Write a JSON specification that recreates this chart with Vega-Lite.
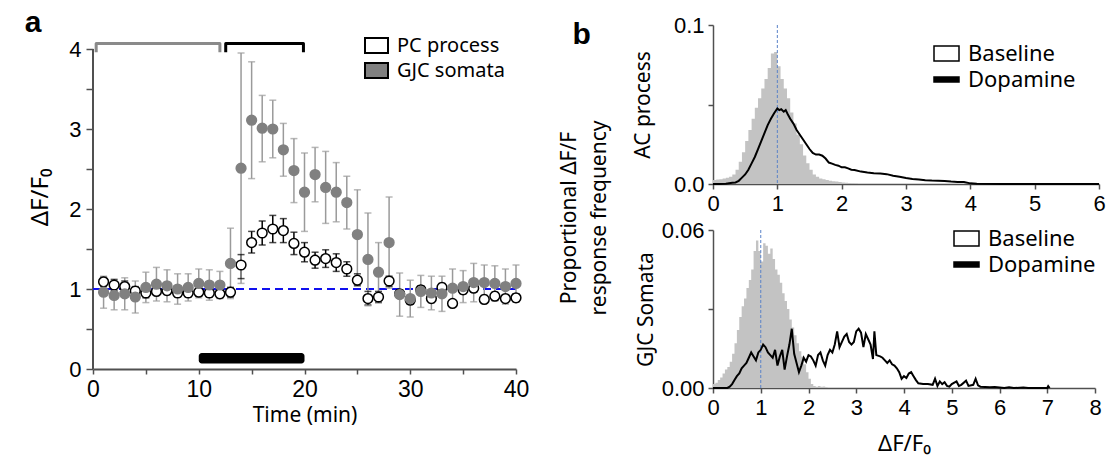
{
  "$schema": "https://vega.github.io/schema/vega-lite/v6.json",
  "background": "white",
  "padding": {"left": 24, "top": 8, "right": 2, "bottom": 2},
  "config": {
    "view": {"stroke": null},
    "font": "Noto Sans",
    "axis": {"grid": false, "domainColor": "#505050", "domainWidth": 2, "tickColor": "#505050", "tickWidth": 1.5, "tickSize": 6, "labelFont": "Liberation Sans", "labelFontSize": 22, "labelColor": "black", "labelFlush": false, "labelOverlap": false, "labelPadding": 4, "titleFont": "Noto Sans", "titleFontSize": 21, "titleFontWeight": "normal", "titleColor": "black"},
    "legend": {"labelFont": "Noto Sans", "labelColor": "black"},
    "title": {"font": "Liberation Sans", "fontWeight": "bold", "fontSize": 30, "color": "black"}
  },
  "datasets": {
    "pa": [
      {"t":1,"s":"PC process","y":1.09,"lo":1.03,"hi":1.15},
      {"t":2,"s":"PC process","y":1.05,"lo":0.98,"hi":1.12},
      {"t":3,"s":"PC process","y":1.03,"lo":0.96,"hi":1.10},
      {"t":4,"s":"PC process","y":0.975,"lo":0.92,"hi":1.03},
      {"t":5,"s":"PC process","y":0.95,"lo":0.89,"hi":1.01},
      {"t":6,"s":"PC process","y":0.97,"lo":0.92,"hi":1.02},
      {"t":7,"s":"PC process","y":0.98,"lo":0.93,"hi":1.03},
      {"t":8,"s":"PC process","y":0.95,"lo":0.90,"hi":1.00},
      {"t":9,"s":"PC process","y":0.95,"lo":0.90,"hi":1.00},
      {"t":10,"s":"PC process","y":0.96,"lo":0.91,"hi":1.01},
      {"t":11,"s":"PC process","y":0.95,"lo":0.90,"hi":1.00},
      {"t":12,"s":"PC process","y":0.94,"lo":0.89,"hi":0.99},
      {"t":13,"s":"PC process","y":0.96,"lo":0.90,"hi":1.02},
      {"t":14,"s":"PC process","y":1.30,"lo":1.13,"hi":1.43},
      {"t":15,"s":"PC process","y":1.58,"lo":1.45,"hi":1.72},
      {"t":16,"s":"PC process","y":1.70,"lo":1.55,"hi":1.85},
      {"t":17,"s":"PC process","y":1.75,"lo":1.58,"hi":1.92},
      {"t":18,"s":"PC process","y":1.73,"lo":1.58,"hi":1.88},
      {"t":19,"s":"PC process","y":1.57,"lo":1.43,"hi":1.71},
      {"t":20,"s":"PC process","y":1.46,"lo":1.34,"hi":1.58},
      {"t":21,"s":"PC process","y":1.36,"lo":1.26,"hi":1.46},
      {"t":22,"s":"PC process","y":1.38,"lo":1.27,"hi":1.49},
      {"t":23,"s":"PC process","y":1.33,"lo":1.22,"hi":1.44},
      {"t":24,"s":"PC process","y":1.25,"lo":1.16,"hi":1.34},
      {"t":25,"s":"PC process","y":1.11,"lo":1.04,"hi":1.19},
      {"t":26,"s":"PC process","y":0.88,"lo":0.80,"hi":0.97},
      {"t":27,"s":"PC process","y":0.90,"lo":0.83,"hi":0.97},
      {"t":28,"s":"PC process","y":1.10,"lo":1.03,"hi":1.16},
      {"t":29,"s":"PC process","y":0.94,"lo":0.89,"hi":0.99},
      {"t":30,"s":"PC process","y":0.86,"lo":0.81,"hi":0.91},
      {"t":31,"s":"PC process","y":0.99,"lo":0.94,"hi":1.04},
      {"t":32,"s":"PC process","y":0.88,"lo":0.83,"hi":0.93},
      {"t":33,"s":"PC process","y":1.02,"lo":0.97,"hi":1.07},
      {"t":34,"s":"PC process","y":0.82,"lo":0.78,"hi":0.86},
      {"t":35,"s":"PC process","y":0.99,"lo":0.94,"hi":1.04},
      {"t":36,"s":"PC process","y":1.01,"lo":0.96,"hi":1.06},
      {"t":37,"s":"PC process","y":0.87,"lo":0.82,"hi":0.92},
      {"t":38,"s":"PC process","y":0.91,"lo":0.86,"hi":0.96},
      {"t":39,"s":"PC process","y":0.88,"lo":0.83,"hi":0.93},
      {"t":40,"s":"PC process","y":0.89,"lo":0.84,"hi":0.94},
      {"t":1,"s":"GJC somata","y":0.96,"lo":0.76,"hi":1.16},
      {"t":2,"s":"GJC somata","y":0.92,"lo":0.74,"hi":1.10},
      {"t":3,"s":"GJC somata","y":0.94,"lo":0.74,"hi":1.14},
      {"t":4,"s":"GJC somata","y":0.90,"lo":0.70,"hi":1.10},
      {"t":5,"s":"GJC somata","y":1.02,"lo":0.83,"hi":1.21},
      {"t":6,"s":"GJC somata","y":1.06,"lo":0.85,"hi":1.27},
      {"t":7,"s":"GJC somata","y":1.04,"lo":0.84,"hi":1.24},
      {"t":8,"s":"GJC somata","y":1.00,"lo":0.81,"hi":1.19},
      {"t":9,"s":"GJC somata","y":1.02,"lo":0.85,"hi":1.19},
      {"t":10,"s":"GJC somata","y":1.07,"lo":0.89,"hi":1.25},
      {"t":11,"s":"GJC somata","y":1.05,"lo":0.86,"hi":1.24},
      {"t":12,"s":"GJC somata","y":1.05,"lo":0.88,"hi":1.22},
      {"t":13,"s":"GJC somata","y":1.32,"lo":0.88,"hi":1.76},
      {"t":14,"s":"GJC somata","y":2.51,"lo":1.07,"hi":3.95},
      {"t":15,"s":"GJC somata","y":3.11,"lo":2.38,"hi":3.84},
      {"t":16,"s":"GJC somata","y":3.01,"lo":2.59,"hi":3.42},
      {"t":17,"s":"GJC somata","y":3.00,"lo":2.64,"hi":3.36},
      {"t":18,"s":"GJC somata","y":2.74,"lo":2.41,"hi":3.07},
      {"t":19,"s":"GJC somata","y":2.48,"lo":2.08,"hi":2.88},
      {"t":20,"s":"GJC somata","y":2.21,"lo":1.72,"hi":2.70},
      {"t":21,"s":"GJC somata","y":2.43,"lo":2.09,"hi":2.77},
      {"t":22,"s":"GJC somata","y":2.27,"lo":1.82,"hi":2.72},
      {"t":23,"s":"GJC somata","y":2.21,"lo":1.84,"hi":2.58},
      {"t":24,"s":"GJC somata","y":2.08,"lo":1.75,"hi":2.41},
      {"t":25,"s":"GJC somata","y":1.68,"lo":1.11,"hi":2.24},
      {"t":26,"s":"GJC somata","y":1.37,"lo":0.79,"hi":1.95},
      {"t":27,"s":"GJC somata","y":1.21,"lo":0.84,"hi":1.58},
      {"t":28,"s":"GJC somata","y":1.58,"lo":1.01,"hi":2.15},
      {"t":29,"s":"GJC somata","y":0.93,"lo":0.66,"hi":1.20},
      {"t":30,"s":"GJC somata","y":0.88,"lo":0.65,"hi":1.11},
      {"t":31,"s":"GJC somata","y":0.97,"lo":0.77,"hi":1.17},
      {"t":32,"s":"GJC somata","y":0.95,"lo":0.74,"hi":1.16},
      {"t":33,"s":"GJC somata","y":0.94,"lo":0.72,"hi":1.16},
      {"t":34,"s":"GJC somata","y":1.01,"lo":0.77,"hi":1.25},
      {"t":35,"s":"GJC somata","y":1.03,"lo":0.83,"hi":1.23},
      {"t":36,"s":"GJC somata","y":1.08,"lo":0.84,"hi":1.32},
      {"t":37,"s":"GJC somata","y":1.08,"lo":0.86,"hi":1.30},
      {"t":38,"s":"GJC somata","y":1.07,"lo":0.85,"hi":1.29},
      {"t":39,"s":"GJC somata","y":1.03,"lo":0.81,"hi":1.25},
      {"t":40,"s":"GJC somata","y":1.07,"lo":0.84,"hi":1.30}
    ],
    "brackets": [
      {"b":"g","o":0,"t":0.3,"v":3.96},{"b":"g","o":1,"t":0.3,"v":4.07},{"b":"g","o":2,"t":12.0,"v":4.07},{"b":"g","o":3,"t":12.0,"v":3.96},
      {"b":"k","o":0,"t":12.55,"v":3.96},{"b":"k","o":1,"t":12.55,"v":4.07},{"b":"k","o":2,"t":19.9,"v":4.07},{"b":"k","o":3,"t":19.9,"v":3.96}
    ],
    "histTop": [
      {"x0":0.00,"f":0.0025},{"x0":0.05,"f":0.0028},{"x0":0.10,"f":0.003},{"x0":0.15,"f":0.0035},
      {"x0":0.20,"f":0.004},{"x0":0.25,"f":0.0045},{"x0":0.30,"f":0.006},{"x0":0.35,"f":0.009},
      {"x0":0.40,"f":0.014},{"x0":0.45,"f":0.020},{"x0":0.50,"f":0.027},{"x0":0.55,"f":0.034},
      {"x0":0.60,"f":0.041},{"x0":0.65,"f":0.048},{"x0":0.70,"f":0.054},{"x0":0.75,"f":0.060},
      {"x0":0.80,"f":0.066},{"x0":0.85,"f":0.073},{"x0":0.90,"f":0.082},{"x0":0.95,"f":0.083},
      {"x0":1.00,"f":0.074},{"x0":1.05,"f":0.066},{"x0":1.10,"f":0.060},{"x0":1.15,"f":0.054},
      {"x0":1.20,"f":0.045},{"x0":1.25,"f":0.038},{"x0":1.30,"f":0.031},{"x0":1.35,"f":0.025},
      {"x0":1.40,"f":0.018},{"x0":1.45,"f":0.013},{"x0":1.50,"f":0.009},{"x0":1.55,"f":0.006},
      {"x0":1.60,"f":0.0045},{"x0":1.65,"f":0.0035},{"x0":1.70,"f":0.003},{"x0":1.75,"f":0.0025},
      {"x0":1.80,"f":0.002},{"x0":1.85,"f":0.0018},{"x0":1.90,"f":0.0015},{"x0":1.95,"f":0.0012},
      {"x0":2.00,"f":0.001},{"x0":2.05,"f":0.0008},{"x0":2.10,"f":0.0006},{"x0":2.15,"f":0.0005},
      {"x0":2.20,"f":0.0003},{"x0":2.25,"f":0}
    ],
    "lineTop": [
      {"x":0,"f":0},{"x":0.1,"f":0},{"x":0.2,"f":0.0002},{"x":0.25,"f":0.0005},{"x":0.3,"f":0.0008},{"x":0.35,"f":0.001},
      {"x":0.4,"f":0.002},{"x":0.45,"f":0.004},{"x":0.5,"f":0.006},{"x":0.55,"f":0.009},{"x":0.6,"f":0.013},{"x":0.65,"f":0.017},
      {"x":0.7,"f":0.022},{"x":0.75,"f":0.027},{"x":0.8,"f":0.032},{"x":0.85,"f":0.037},{"x":0.9,"f":0.041},{"x":0.95,"f":0.0445},
      {"x":1.0,"f":0.0475},{"x":1.03,"f":0.0465},{"x":1.06,"f":0.047},{"x":1.1,"f":0.0455},{"x":1.13,"f":0.0465},{"x":1.16,"f":0.044},
      {"x":1.2,"f":0.041},{"x":1.25,"f":0.038},{"x":1.3,"f":0.034},{"x":1.35,"f":0.031},{"x":1.4,"f":0.028},{"x":1.45,"f":0.025},
      {"x":1.5,"f":0.022},{"x":1.55,"f":0.0195},{"x":1.6,"f":0.0185},{"x":1.65,"f":0.0185},{"x":1.7,"f":0.0178},{"x":1.75,"f":0.016},
      {"x":1.8,"f":0.0135},{"x":1.85,"f":0.0128},{"x":1.9,"f":0.012},{"x":1.95,"f":0.0115},{"x":2.0,"f":0.0105},{"x":2.05,"f":0.0105},
      {"x":2.1,"f":0.0098},{"x":2.15,"f":0.009},{"x":2.2,"f":0.0088},{"x":2.3,"f":0.0078},{"x":2.4,"f":0.0072},{"x":2.5,"f":0.0068},
      {"x":2.6,"f":0.0066},{"x":2.7,"f":0.0062},{"x":2.8,"f":0.0052},{"x":2.9,"f":0.0045},{"x":3.0,"f":0.0038},{"x":3.1,"f":0.0032},
      {"x":3.2,"f":0.0028},{"x":3.3,"f":0.0024},{"x":3.4,"f":0.0022},{"x":3.5,"f":0.0021},{"x":3.6,"f":0.0019},{"x":3.7,"f":0.0015},
      {"x":3.8,"f":0.0013},{"x":3.9,"f":0.0012},{"x":4.0,"f":0.0004},{"x":4.1,"f":0.0001},{"x":4.5,"f":0},{"x":6.0,"f":0}
    ],
    "histBot": [
      {"x0":0.00,"f":0.0015},{"x0":0.05,"f":0.002},{"x0":0.10,"f":0.003},{"x0":0.15,"f":0.004},
      {"x0":0.20,"f":0.0055},{"x0":0.25,"f":0.007},{"x0":0.30,"f":0.008},{"x0":0.35,"f":0.010},
      {"x0":0.40,"f":0.013},{"x0":0.45,"f":0.017},{"x0":0.50,"f":0.022},{"x0":0.55,"f":0.027},
      {"x0":0.60,"f":0.031},{"x0":0.65,"f":0.034},{"x0":0.70,"f":0.038},{"x0":0.75,"f":0.041},
      {"x0":0.80,"f":0.045},{"x0":0.85,"f":0.052},{"x0":0.90,"f":0.056},{"x0":0.95,"f":0.052},
      {"x0":1.00,"f":0.048},{"x0":1.05,"f":0.055},{"x0":1.10,"f":0.054},{"x0":1.15,"f":0.051},
      {"x0":1.20,"f":0.053},{"x0":1.25,"f":0.049},{"x0":1.30,"f":0.045},{"x0":1.35,"f":0.043},
      {"x0":1.40,"f":0.040},{"x0":1.45,"f":0.036},{"x0":1.50,"f":0.033},{"x0":1.55,"f":0.030},
      {"x0":1.60,"f":0.026},{"x0":1.65,"f":0.023},{"x0":1.70,"f":0.020},{"x0":1.75,"f":0.017},
      {"x0":1.80,"f":0.014},{"x0":1.85,"f":0.012},{"x0":1.90,"f":0.009},{"x0":1.95,"f":0.006},
      {"x0":2.00,"f":0.0035},{"x0":2.05,"f":0.0015},{"x0":2.10,"f":0.0008},{"x0":2.15,"f":0.0005},
      {"x0":2.20,"f":0.0008},{"x0":2.25,"f":0.0005},{"x0":2.30,"f":0.0006},{"x0":2.35,"f":0.0003},{"x0":2.40,"f":0}
    ],
    "lineBot": [
      {"x":0,"f":0},{"x":0.3,"f":0},{"x":0.35,"f":0.0005},{"x":0.4,"f":0.0015},{"x":0.45,"f":0.003},{"x":0.5,"f":0.0045},
      {"x":0.55,"f":0.0055},{"x":0.6,"f":0.0075},{"x":0.65,"f":0.0085},{"x":0.7,"f":0.0095},{"x":0.75,"f":0.0115},{"x":0.8,"f":0.0135},
      {"x":0.85,"f":0.012},{"x":0.9,"f":0.0105},{"x":0.95,"f":0.0135},{"x":1.0,"f":0.0145},{"x":1.05,"f":0.0165},{"x":1.1,"f":0.0155},
      {"x":1.15,"f":0.0135},{"x":1.2,"f":0.0125},{"x":1.25,"f":0.0115},{"x":1.3,"f":0.0145},{"x":1.35,"f":0.0085},{"x":1.4,"f":0.012},
      {"x":1.45,"f":0.0145},{"x":1.5,"f":0.007},{"x":1.55,"f":0.012},{"x":1.6,"f":0.0165},{"x":1.65,"f":0.0225},{"x":1.7,"f":0.013},
      {"x":1.75,"f":0.0095},{"x":1.8,"f":0.006},{"x":1.85,"f":0.0085},{"x":1.9,"f":0.0115},{"x":1.95,"f":0.010},{"x":2.0,"f":0.0125},
      {"x":2.05,"f":0.012},{"x":2.1,"f":0.0105},{"x":2.15,"f":0.0085},{"x":2.2,"f":0.0125},{"x":2.25,"f":0.0135},{"x":2.3,"f":0.0105},
      {"x":2.35,"f":0.0085},{"x":2.4,"f":0.0125},{"x":2.45,"f":0.0145},{"x":2.5,"f":0.0135},{"x":2.55,"f":0.0165},{"x":2.6,"f":0.0215},
      {"x":2.65,"f":0.0155},{"x":2.7,"f":0.0175},{"x":2.75,"f":0.0195},{"x":2.8,"f":0.0205},{"x":2.85,"f":0.0175},{"x":2.9,"f":0.0165},
      {"x":2.95,"f":0.0175},{"x":3.0,"f":0.0215},{"x":3.05,"f":0.0225},{"x":3.1,"f":0.021},{"x":3.15,"f":0.0155},{"x":3.2,"f":0.0205},
      {"x":3.25,"f":0.0185},{"x":3.3,"f":0.0165},{"x":3.35,"f":0.011},{"x":3.38,"f":0.0215},{"x":3.42,"f":0.0125},{"x":3.5,"f":0.012},
      {"x":3.55,"f":0.0115},{"x":3.6,"f":0.0105},{"x":3.65,"f":0.0095},{"x":3.7,"f":0.0105},{"x":3.75,"f":0.009},{"x":3.8,"f":0.0085},
      {"x":3.85,"f":0.0075},{"x":3.9,"f":0.006},{"x":3.95,"f":0.0035},{"x":4.0,"f":0.0045},{"x":4.05,"f":0.0038},{"x":4.1,"f":0.0055},
      {"x":4.15,"f":0.006},{"x":4.2,"f":0.0045},{"x":4.25,"f":0.003},{"x":4.3,"f":0.0018},{"x":4.4,"f":0.0015},{"x":4.5,"f":0.0015},
      {"x":4.6,"f":0.0012},{"x":4.65,"f":0.0035},{"x":4.7,"f":0.0008},{"x":4.75,"f":0.0025},{"x":4.8,"f":0.0015},{"x":4.85,"f":0.0022},
      {"x":4.9,"f":0.0008},{"x":4.95,"f":0.0005},{"x":5.0,"f":0.0015},{"x":5.1,"f":0.0025},{"x":5.15,"f":0.0008},{"x":5.2,"f":0.0012},
      {"x":5.3,"f":0.0028},{"x":5.35,"f":0.0008},{"x":5.45,"f":0.0012},{"x":5.5,"f":0.0035},{"x":5.55,"f":0.001},{"x":5.6,"f":0.0005},
      {"x":5.7,"f":0.0004},{"x":5.8,"f":0.0003},{"x":5.9,"f":0.0004},{"x":6.0,"f":0.0002},{"x":6.1,"f":0},{"x":6.2,"f":0.0003},
      {"x":6.3,"f":0},{"x":6.5,"f":0.0002},{"x":6.6,"f":0},{"x":7.0,"f":0},{"x":7.02,"f":0.0007},{"x":7.05,"f":0}
    ],
    "keyB": [{"series": "Baseline"}, {"series": "Dopamine"}]
  },
  "align": "none",
  "spacing": 30,
  "resolve": {"scale": {"fill": "independent", "shape": "independent", "color": "independent", "stroke": "independent"}, "legend": {"fill": "independent", "shape": "independent", "color": "independent", "stroke": "independent"}},
  "hconcat": [
    {
      "width": 423,
      "height": 344,
      "title": {"text": "a", "anchor": "start", "frame": "bounds", "offset": -13, "dx": -4},
      "layer": [
        {
          "data": {"values": [{"t": 0, "v0": 0, "v1": 4}]},
          "mark": {"type": "rule", "color": "#505050", "strokeWidth": 2},
          "encoding": {
            "x": {"field": "t", "type": "quantitative", "title": "Time (min)"},
            "y": {"field": "v0", "type": "quantitative", "title": "ΔF/F₀"},
            "y2": {"field": "v1"}
          }
        },
        {
          "data": {"name": "brackets"},
          "mark": {"type": "line", "strokeWidth": 3, "strokeJoin": "round"},
          "encoding": {
            "x": {"field": "t", "type": "quantitative", "title": "Time (min)"},
            "y": {"field": "v", "type": "quantitative", "title": "ΔF/F₀"},
            "order": {"field": "o"},
            "color": {"field": "b", "type": "nominal", "scale": {"domain": ["g", "k"], "range": ["#8a8a8a", "#000000"]}, "legend": null}
          }
        },
        {
          "data": {"values": [{"t0": 10, "t1": 20, "v0": 0.07, "v1": 0.2}]},
          "mark": {"type": "rect", "color": "black", "cornerRadius": 3},
          "encoding": {
            "x": {"field": "t0", "type": "quantitative", "title": "Time (min)"},
            "x2": {"field": "t1"},
            "y": {"field": "v0", "type": "quantitative", "title": "ΔF/F₀"},
            "y2": {"field": "v1"}
          }
        },
        {
          "data": {"values": [{"t0": 0, "t1": 40, "v": 1}]},
          "mark": {"type": "rule", "color": "#1010ee", "strokeDash": [8, 5], "strokeWidth": 2},
          "encoding": {
            "x": {"field": "t0", "type": "quantitative", "title": "Time (min)"},
            "x2": {"field": "t1"},
            "y": {"field": "v", "type": "quantitative", "title": "ΔF/F₀"}
          }
        },
        {
          "data": {"name": "pa"},
          "mark": {"type": "rule", "strokeWidth": 1.5},
          "encoding": {
            "x": {"field": "t", "type": "quantitative", "title": "Time (min)"},
            "y": {"field": "lo", "type": "quantitative", "title": "ΔF/F₀"},
            "y2": {"field": "hi"},
            "color": {"condition": {"test": "datum.s === 'PC process'", "value": "black"}, "value": "#9a9a9a"}
          }
        },
        {
          "data": {"name": "pa"},
          "mark": {"type": "tick", "orient": "horizontal", "size": 7, "thickness": 1.5},
          "encoding": {
            "x": {"field": "t", "type": "quantitative", "title": "Time (min)"},
            "y": {"field": "hi", "type": "quantitative", "title": "ΔF/F₀"},
            "color": {"condition": {"test": "datum.s === 'PC process'", "value": "black"}, "value": "#9a9a9a"}
          }
        },
        {
          "data": {"name": "pa"},
          "mark": {"type": "tick", "orient": "horizontal", "size": 7, "thickness": 1.5},
          "encoding": {
            "x": {"field": "t", "type": "quantitative", "title": "Time (min)"},
            "y": {"field": "lo", "type": "quantitative", "title": "ΔF/F₀"},
            "color": {"condition": {"test": "datum.s === 'PC process'", "value": "black"}, "value": "#9a9a9a"}
          }
        },
        {
          "data": {"name": "pa"},
          "mark": {"type": "point", "filled": true, "size": 95, "strokeWidth": 1.5, "opacity": 1},
          "encoding": {
            "x": {
              "field": "t", "type": "quantitative", "title": "Time (min)",
              "scale": {"domain": [0, 40], "nice": false},
              "axis": {"values": [0, 5, 10, 15, 20, 25, 30, 35, 40], "labelExpr": "datum.value % 10 === 0 ? format(datum.value, 'd') : ''", "labelFontSize": 23, "titlePadding": 3, "tickSize": 5}
            },
            "y": {
              "field": "y", "type": "quantitative", "title": "ΔF/F₀",
              "scale": {"domain": [0, 4.3], "nice": false},
              "axis": {"values": [0, 0.5, 1, 1.5, 2, 2.5, 3, 3.5, 4], "labelExpr": "datum.value % 1 === 0 ? format(datum.value, 'd') : ''", "titleFontSize": 24, "titlePadding": 16, "tickSize": 7, "labelPadding": 5, "domain": false}
            },
            "fill": {
              "field": "s", "type": "nominal",
              "scale": {"domain": ["PC process", "GJC somata"], "range": ["#ffffff", "#808080"]},
              "legend": {"orient": "none", "legendX": 271, "legendY": 8, "title": null, "symbolType": "M-1,-0.65H1V0.65H-1Z", "symbolSize": 529, "symbolStrokeColor": "black", "symbolStrokeWidth": 2, "labelFontSize": 20, "labelOffset": 8, "rowPadding": 1, "symbolOpacity": 1}
            },
            "stroke": {"condition": {"test": "datum.s === 'PC process'", "value": "black"}, "value": "#808080"}
          }
        }
      ]
    },
    {
      "title": {"text": "b", "anchor": "start", "frame": "bounds", "offset": -36, "dx": 13},
      "resolve": {"scale": {"fill": "independent", "shape": "independent", "stroke": "independent"}, "legend": {"fill": "independent", "shape": "independent", "stroke": "independent"}},
      "vconcat": [
        {
          "spacing": 5,
          "title": {"text": ["Proportional ΔF/F", "response frequency"], "orient": "left", "anchor": "middle", "font": "Noto Sans", "fontWeight": "normal", "fontSize": 21, "lineHeight": 30, "offset": 22, "dx": 16},
          "resolve": {"scale": {"fill": "independent", "shape": "independent", "stroke": "independent"}, "legend": {"fill": "independent", "shape": "independent", "stroke": "independent"}},
          "vconcat": [
            {
              "width": 386,
              "height": 159,
              "layer": [
                {
                  "data": {"name": "histTop"},
                  "mark": {"type": "area", "interpolate": "step-after", "color": "#c3c3c3"},
                  "encoding": {
                    "x": {"field": "x0", "type": "quantitative", "title": null},
                    "y": {"field": "f", "type": "quantitative", "title": "AC process"}
                  }
                },
                {
                  "data": {"values": [{"x": 1}]},
                  "mark": {"type": "rule", "color": "#5a82c8", "strokeDash": [3, 2], "strokeWidth": 1},
                  "encoding": {"x": {"field": "x", "type": "quantitative", "title": null}}
                },
                {
                  "data": {"name": "lineTop"},
                  "mark": {"type": "line", "strokeWidth": 2, "color": "black"},
                  "encoding": {
                    "x": {"field": "x", "type": "quantitative", "title": null,
                      "scale": {"domain": [0, 6], "nice": false},
                      "axis": {"values": [0, 0.5, 1, 1.5, 2, 2.5, 3, 3.5, 4, 4.5, 5, 5.5, 6], "labelExpr": "datum.value % 1 === 0 ? format(datum.value, 'd') : ''", "domainWidth": 1.5, "tickSize": 5}},
                    "y": {"field": "f", "type": "quantitative", "title": "AC process",
                      "scale": {"domain": [0, 0.1], "nice": false},
                      "axis": {"values": [0, 0.05, 0.1], "labelExpr": "datum.value === 0.05 ? '' : format(datum.value, '.1f')", "titlePadding": 20, "domainWidth": 1.5, "tickSize": 5}}
                  }
                },
                {
                  "data": {"name": "keyB"},
                  "mark": {"type": "point", "filled": true, "opacity": 0, "strokeWidth": 1.5},
                  "encoding": {
                    "stroke": {"field": "series", "type": "nominal", "scale": {"domain": ["Baseline", "Dopamine"], "range": ["#000000", "#000000"]},
                      "legend": {"orient": "none", "legendX": 220, "legendY": 15, "title": null, "labelFontSize": 22, "labelOffset": 8, "rowPadding": 1, "symbolSize": 625, "symbolOpacity": 1, "symbolStrokeColor": "black", "symbolStrokeWidth": 1.5}},
                    "fill": {"field": "series", "type": "nominal", "scale": {"domain": ["Baseline", "Dopamine"], "range": ["#ffffff", "#000000"]},
                      "legend": {"orient": "none", "legendX": 220, "legendY": 15, "title": null, "labelFontSize": 22, "labelOffset": 8, "rowPadding": 1, "symbolSize": 625, "symbolOpacity": 1, "symbolStrokeColor": "black", "symbolStrokeWidth": 1.5}},
                    "shape": {"field": "series", "type": "nominal", "scale": {"domain": ["Baseline", "Dopamine"], "range": ["M-1,-0.6H1V0.6H-1Z", "M-1,-0.2H1V0.2H-1Z"]},
                      "legend": {"orient": "none", "legendX": 220, "legendY": 15, "title": null, "labelFontSize": 22, "labelOffset": 8, "rowPadding": 1, "symbolSize": 625, "symbolOpacity": 1, "symbolStrokeColor": "black", "symbolStrokeWidth": 1.5}}
                  }
                }
              ]
            },
            {
              "width": 382,
              "height": 158,
              "layer": [
                {
                  "data": {"name": "histBot"},
                  "mark": {"type": "area", "interpolate": "step-after", "color": "#c3c3c3"},
                  "encoding": {
                    "x": {"field": "x0", "type": "quantitative", "title": "ΔF/F₀"},
                    "y": {"field": "f", "type": "quantitative", "title": "GJC Somata"}
                  }
                },
                {
                  "data": {"values": [{"x": 1}]},
                  "mark": {"type": "rule", "color": "#5a82c8", "strokeDash": [3, 2], "strokeWidth": 1},
                  "encoding": {"x": {"field": "x", "type": "quantitative", "title": "ΔF/F₀"}}
                },
                {
                  "data": {"name": "lineBot"},
                  "mark": {"type": "line", "strokeWidth": 2, "color": "black"},
                  "encoding": {
                    "x": {"field": "x", "type": "quantitative", "title": "ΔF/F₀",
                      "scale": {"domain": [0, 8], "nice": false},
                      "axis": {"values": [0, 0.5, 1, 1.5, 2, 2.5, 3, 3.5, 4, 4.5, 5, 5.5, 6, 6.5, 7, 7.5, 8], "labelExpr": "datum.value % 1 === 0 ? format(datum.value, 'd') : ''", "domainWidth": 1.5, "tickSize": 5, "titleFontSize": 22, "titlePadding": 15}},
                    "y": {"field": "f", "type": "quantitative", "title": "GJC Somata",
                      "scale": {"domain": [0, 0.06], "nice": false},
                      "axis": {"values": [0, 0.03, 0.06], "labelExpr": "datum.value === 0.03 ? '' : format(datum.value, '.2f')", "titlePadding": 5, "domainWidth": 1.5, "tickSize": 5}}
                  }
                },
                {
                  "data": {"name": "keyB"},
                  "mark": {"type": "point", "filled": true, "opacity": 0, "strokeWidth": 1.5},
                  "encoding": {
                    "stroke": {"field": "series", "type": "nominal", "scale": {"domain": ["Baseline", "Dopamine"], "range": ["#000000", "#000000"]},
                      "legend": {"orient": "none", "legendX": 240, "legendY": -5, "title": null, "labelFontSize": 22, "labelOffset": 8, "rowPadding": 1, "symbolSize": 625, "symbolOpacity": 1, "symbolStrokeColor": "black", "symbolStrokeWidth": 1.5}},
                    "fill": {"field": "series", "type": "nominal", "scale": {"domain": ["Baseline", "Dopamine"], "range": ["#ffffff", "#000000"]},
                      "legend": {"orient": "none", "legendX": 240, "legendY": -5, "title": null, "labelFontSize": 22, "labelOffset": 8, "rowPadding": 1, "symbolSize": 625, "symbolOpacity": 1, "symbolStrokeColor": "black", "symbolStrokeWidth": 1.5}},
                    "shape": {"field": "series", "type": "nominal", "scale": {"domain": ["Baseline", "Dopamine"], "range": ["M-1,-0.6H1V0.6H-1Z", "M-1,-0.2H1V0.2H-1Z"]},
                      "legend": {"orient": "none", "legendX": 240, "legendY": -5, "title": null, "labelFontSize": 22, "labelOffset": 8, "rowPadding": 1, "symbolSize": 625, "symbolOpacity": 1, "symbolStrokeColor": "black", "symbolStrokeWidth": 1.5}}
                  }
                }
              ]
            }
          ]
        }
      ]
    }
  ]
}
